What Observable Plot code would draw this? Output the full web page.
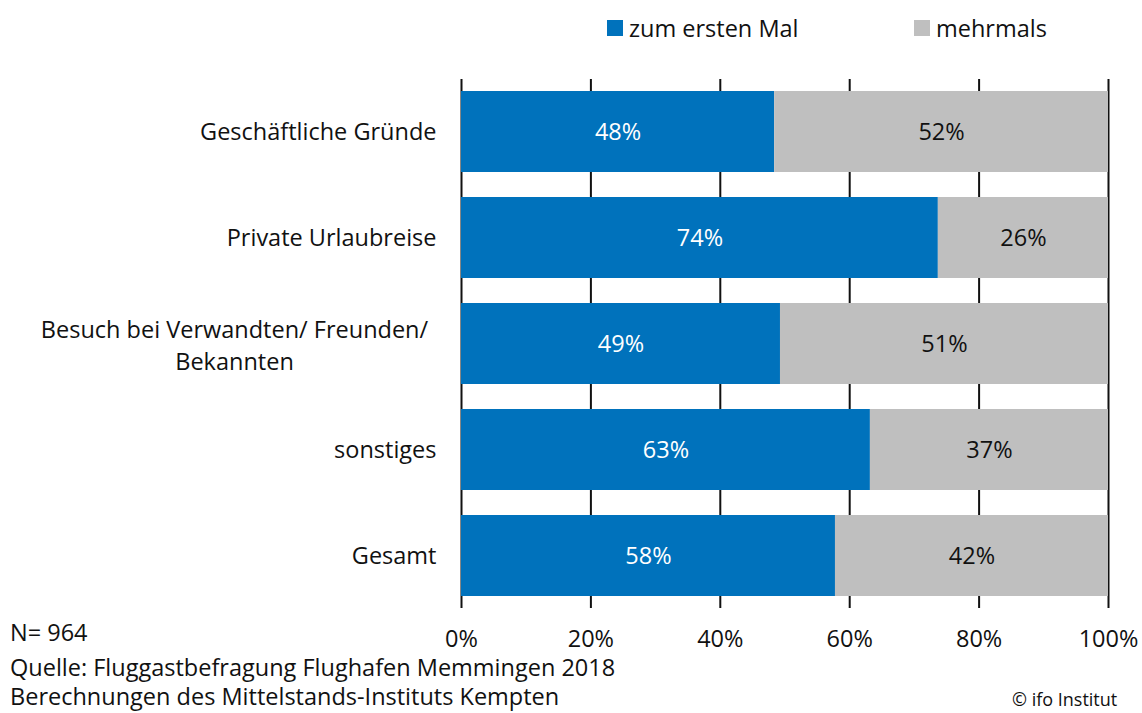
<!DOCTYPE html>
<html>
<head>
<meta charset="utf-8">
<script src="https://cdn.jsdelivr.net/npm/d3@7"></script>
<script src="https://cdn.jsdelivr.net/npm/@observablehq/plot@0.6"></script>
<style>
  html, body { margin: 0; padding: 0; background: #fff; }
  #wrap { position: relative; width: 1142px; height: 713px; overflow: hidden; font-family: "Open Sans", "Noto Sans", sans-serif; color: #111; }
  #chart { position: absolute; left: 0; top: 0; }
  .legend { position: absolute; top: 13px; font-size: 23.5px; line-height: 30px; display: flex; align-items: center; }
  .sw { display: inline-block; width: 16px; height: 16px; margin-right: 6px; }
  .cap { position: absolute; left: 10px; font-size: 23.5px; line-height: 30px; white-space: nowrap; }
</style>
</head>
<body>
<div id="wrap">
  <div id="chart"></div>
  <div class="legend" style="left:607px"><span class="sw" style="background:#0072BC"></span>zum ersten Mal</div>
  <div class="legend" style="left:914px"><span class="sw" style="background:#BFBFBF"></span>mehrmals</div>
  <div class="cap" style="top:617px">N= 964</div>
  <div class="cap" style="top:652px">Quelle: Fluggastbefragung Flughafen Memmingen 2018</div>
  <div class="cap" style="top:681px">Berechnungen des Mittelstands-Instituts Kempten</div>
  <div class="cap" style="top:688px; left:1012px; font-size:18px; line-height:22px">© ifo Institut</div>
</div>
<script>
const categories = [
  "Geschäftliche Gründe",
  "Private Urlaubreise",
  "Besuch bei Verwandten/ Freunden/\nBekannten",
  "sonstiges",
  "Gesamt"
];
const seriesNames = ["zum ersten Mal", "mehrmals"];
const firstTime = [48.4, 73.7, 49.3, 63.2, 57.8];
const repeated = [51.6, 26.3, 50.7, 36.8, 42.2];
const firstLabels = ["48%", "74%", "49%", "63%", "58%"];
const repeatedLabels = ["52%", "26%", "51%", "37%", "42%"];
const xTicks = [0, 20, 40, 60, 80, 100];

const data = [];
categories.forEach((c, i) => {
  data.push({cat: c, series: seriesNames[0], value: firstTime[i], label: firstLabels[i]});
  data.push({cat: c, series: seriesNames[1], value: repeated[i], label: repeatedLabels[i]});
});

const font = "'Open Sans', 'Noto Sans', sans-serif";
const fs = 23.5;

const chart = Plot.plot({
  width: 1142,
  height: 713,
  marginLeft: 461,
  marginRight: 34,
  marginTop: 79,
  marginBottom: 117,
  style: {fontFamily: font, fontSize: fs + "px", color: "#111", background: "transparent"},
  x: {domain: [0, 100], axis: null, label: null},
  y: {domain: categories, paddingInner: 0.24, paddingOuter: 0.054, align: 1, axis: null, label: null},
  color: {domain: seriesNames, range: ["#0072BC", "#BFBFBF"]},
  marks: [
    Plot.ruleX(xTicks, {x: d => d, stroke: "#111", strokeWidth: 2}),
    Plot.barX(data, Plot.stackX({y: "cat", x: "value", fill: "series"})),
    Plot.text(data, Plot.stackX({y: "cat", x: "value", text: d => d.series === seriesNames[0] ? d.label : null, fill: "white", fontSize: fs})),
    Plot.text(data, Plot.stackX({y: "cat", x: "value", text: d => d.series === seriesNames[1] ? d.label : null, fill: "#111", fontSize: fs})),
    Plot.axisX(xTicks, {label: null, tickSize: 12, tickPadding: 22, tickFormat: d => d + "%", fontSize: fs, stroke: "#111", strokeWidth: 2, fill: "#111"}),
    Plot.text(categories.filter(c => !c.includes("\n")), {y: d => d, text: d => d, frameAnchor: "left", textAnchor: "end", dx: -25, fontSize: fs, fill: "#111"}),
    Plot.text(categories.filter(c => c.includes("\n")), {y: d => d, text: d => d, frameAnchor: "left", textAnchor: "middle", dx: -227, fontSize: fs, lineHeight: 1.33, fill: "#111"})
  ]
});
document.getElementById("chart").appendChild(chart);
</script>
</body>
</html>
